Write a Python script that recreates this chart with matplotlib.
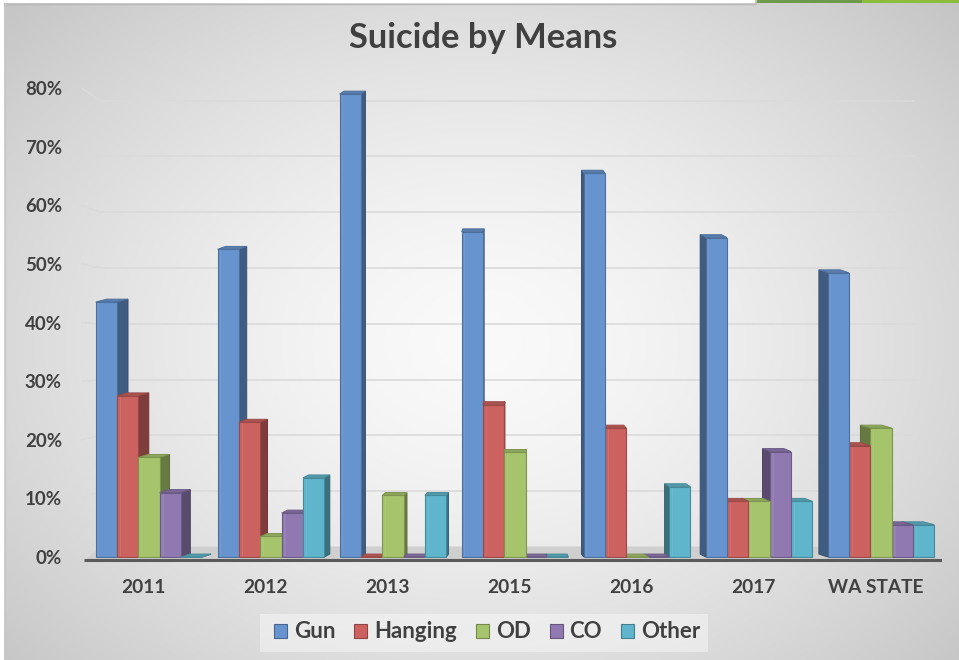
import numpy as np
import matplotlib
matplotlib.use("Agg")
import matplotlib.pyplot as plt
from matplotlib.patches import Rectangle, Polygon
from matplotlib.lines import Line2D
from matplotlib.colors import to_rgb

# ---------------- data ----------------
categories = ['2011', '2012', '2013', '2015', '2016', '2017', 'WA STATE']
series_names = ['Gun', 'Hanging', 'OD', 'CO', 'Other']
gun = [43.5, 52.5, 79.0, 55.5, 65.5, 54.5, 48.5]
hanging = [27.5, 23.0, 0.0, 26.0, 22.0, 9.5, 19.0]
od = [17.0, 3.5, 10.5, 18.0, 0.0, 9.5, 22.0]
co = [11.0, 7.5, 0.0, 0.0, 0.0, 18.0, 5.5]
other = [0.0, 13.5, 10.5, 0.0, 12.0, 9.5, 5.5]
yticks = [0, 10, 20, 30, 40, 50, 60, 70, 80]

series = [gun, hanging, od, co, other]
colors = ['#6794CE', '#CC625F', '#A6C46B', '#9079B1', '#5FB6CC']
text_color = '#404040'
FONT = ['Lato', 'DejaVu Sans']

W, H = 959, 660
fig = plt.figure(figsize=(W / 100, H / 100), dpi=100)

# ---------------- background (radial gradient) ----------------
bg = fig.add_axes([0, 0, 1, 1], zorder=-10)
yy, xx = np.mgrid[0:1:330j, 0:1:480j]
r = np.sqrt(((xx - 0.5) / 0.5) ** 2 + ((yy - 0.52) / 0.55) ** 2) / np.sqrt(2)
val = 0.98 - 0.22 * np.clip(r, 0, 1.2) ** 1.5
bg.imshow(np.dstack([val, val, val]), extent=[0, W, H, 0], aspect='auto', interpolation='bilinear')
bg.set_xlim(0, W)
bg.set_ylim(H, 0)
bg.axis('off')
# slide frame decorations
bg.add_patch(Rectangle((0, 0), 755, 3, fc='white', ec='none'))
bg.add_patch(Rectangle((0, 0), 4, H, fc='white', ec='none'))
bg.add_patch(Rectangle((757, 0), 105, 3, fc='#6E9A4C', ec='none'))
bg.add_patch(Rectangle((862, 0), 97, 3, fc='#8DBB3C', ec='none'))
bg.plot([4, 755], [3.5, 3.5], color='#b8b8b8', lw=1)
bg.plot([4.5, 4.5], [3, H], color='#c8c8c8', lw=1)
bg.plot([755.5, 755.5], [0, 3], color='#b8b8b8', lw=1)
# legend backdrop
bg.add_patch(Rectangle((260, 614), 448, 38, fc='#f6f6f6', alpha=0.55, ec='none'))

# ---------------- axes geometry (pixels) ----------------
px_per_cat = 122.0
x0_px = 149.0
xl, xr = -0.56, 6.5
front_left = x0_px + xl * px_per_cat
front_w = (xr - xl) * px_per_cat
yscale = 586.0
zero_px = 557.0
ylo, yhi = -0.012, 0.82
f_bottom = H - (zero_px - ylo * yscale)
f_height = (yhi - ylo) * yscale

# back wall axes (gridlines)
b_left, b_right = 100.0, 915.0
b_zero, b_scale = 547.0, 557.9
bk = fig.add_axes([b_left / W, (H - b_zero) / H, (b_right - b_left) / W, yhi * b_scale / H], zorder=0)
bk.set_xlim(0, 1)
bk.set_ylim(0, yhi)
bk.patch.set_alpha(0)
bk.axis('off')
for v in yticks:
    bk.axhline(v / 100, color='#dadada', lw=1.2)

ax = fig.add_axes([front_left / W, f_bottom / H, front_w / W, f_height / H], zorder=1)
ax.set_xlim(xl, xr)
ax.set_ylim(ylo, yhi)
ax.patch.set_alpha(0)
for s in ax.spines.values():
    s.set_visible(False)

# side wall lines joining front axis to back wall
fig.canvas.draw()
inv = fig.transFigure.inverted()
for v in yticks[1:]:
    p1 = inv.transform(ax.transData.transform((xl + 0.01, v / 100)))
    p2 = inv.transform(bk.transData.transform((0, v / 100)))
    fig.add_artist(Line2D([p1[0], p2[0]], [p1[1], p2[1]], transform=fig.transFigure,
                          color='#dadada', lw=1.2, zorder=0.5))

# floor
floor = Polygon([(-0.52, -0.004), (6.5, -0.004), (6.3, 0.017), (-0.40, 0.017)],
                closed=True, fc='#cfcfcf', ec='none', zorder=1)
ax.add_patch(floor)
ax.plot([-0.53, 6.5], [-0.005, -0.005], color='#5a5a5a', lw=2.2, zorder=1.5, solid_capstyle='butt')


def shade(c, f):
    r_, g_, b_ = to_rgb(c)
    return (r_ * f, g_ * f, b_ * f)


# ---------------- 3D-looking bars ----------------
n = len(series)
bw = 0.175
k_dx = 0.027
dy = 0.005
for j, vals in enumerate(series):
    for i, v in enumerate(vals):
        h = v / 100.0
        x0 = i - n * bw / 2 + j * bw
        xc = x0 + bw / 2
        dx = k_dx * (3 - xc)
        z = 2 + (j if dx > 0 else (n - j)) * 0.1
        col = colors[j]
        edge = shade(col, 0.75)
        if dx > 0:
            side = [(x0 + bw, 0), (x0 + bw + dx, dy), (x0 + bw + dx, h + dy), (x0 + bw, h)]
        else:
            side = [(x0, 0), (x0 + dx, dy), (x0 + dx, h + dy), (x0, h)]
        top = [(x0, h), (x0 + bw, h), (x0 + bw + dx, h + dy), (x0 + dx, h + dy)]
        ax.add_patch(Polygon(side, closed=True, fc=shade(col, 0.62), ec=shade(col, 0.55), lw=0.7, zorder=z))
        ax.add_patch(Polygon(top, closed=True, fc=shade(col, 0.85), ec=edge, lw=0.7, zorder=z))
        ax.add_patch(Rectangle((x0, 0), bw, h, fc=col, ec=edge, lw=0.8, zorder=z))
        if h > 0.02:
            ax.add_patch(Rectangle((x0 + bw * 0.12, 0.002), bw * 0.06, h - 0.004,
                                   fc='white', alpha=0.08, ec='none', zorder=z))

# ---------------- ticks ----------------
ax.set_yticks([v / 100 for v in yticks])
ax.set_yticklabels([f'{v}%' for v in yticks])
ax.set_xticks(np.arange(len(categories)) - 0.045)
ax.set_xticklabels(categories)
ax.tick_params(axis='y', length=0, pad=13.5, labelsize=13.5, labelcolor=text_color)
ax.tick_params(axis='x', length=0, pad=11, labelsize=13.8, labelcolor=text_color)
for lab in ax.get_yticklabels() + ax.get_xticklabels():
    lab.set_fontweight('bold')
    lab.set_family(FONT)

# ---------------- title ----------------
fig.text(483.5 / W, 1 - 38 / H, 'Suicide by Means', ha='center', va='center',
         fontsize=24.8, fontweight='bold', color=text_color, family=FONT)

# ---------------- legend ----------------
handles = [Rectangle((0, 0), 1, 1, fc=c, ec=shade(c, 0.7), lw=0.8) for c in colors]
leg = fig.legend(handles, series_names, loc='center', bbox_to_anchor=(487 / W, 1 - 632 / H), ncol=5,
                 frameon=False, prop={'family': FONT, 'weight': 'bold', 'size': 16},
                 handlelength=0.6, handleheight=0.6, handletextpad=0.3, columnspacing=0.85,
                 borderpad=0.3, borderaxespad=0)
for t in leg.get_texts():
    t.set_color(text_color)

fig.savefig('out.png', dpi=100)
